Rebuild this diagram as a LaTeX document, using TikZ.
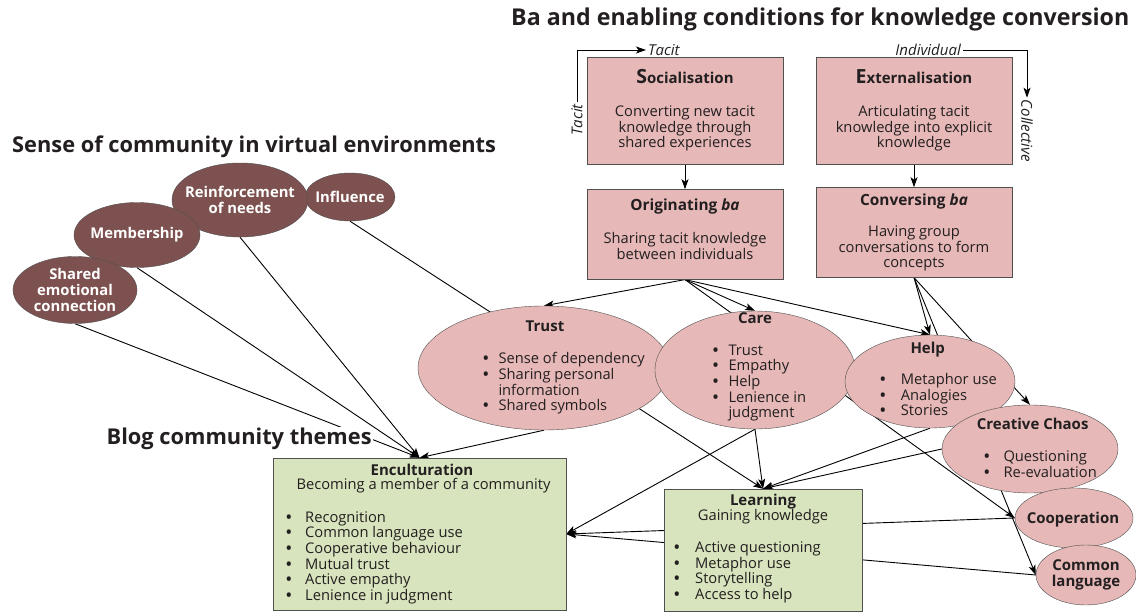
\documentclass[tikz,border=0pt]{standalone}
\usepackage{fontspec}
\setmainfont{Open Sans}
\usetikzlibrary{shapes.geometric,arrows.meta,positioning}
\definecolor{rose}{HTML}{E6B8B7}
\definecolor{cocoa}{HTML}{7D514F}
\definecolor{sage}{HTML}{D7E4BD}
\definecolor{edge}{HTML}{505050}
\definecolor{ink}{HTML}{231F20}
\newcommand{\bodyfont}{\fontsize{14.7}{15.7}\selectfont}
\newcommand{\headfont}{\fontsize{21.8}{24}\selectfont\bfseries}
\newcommand{\bul}[2]{\makebox[#1][l]{\bfseries\textbullet}#2}
\newcommand{\boxhead}[2]{{\fontsize{15}{15}\selectfont\bfseries{\fontsize{19.5}{15}\selectfont #1}#2}}
\pgfdeclarelayer{lines}
\pgfsetlayers{lines,main}
\tikzset{
  box/.style={draw=edge, fill=rose, minimum width=196pt, inner sep=0pt, align=center, font=\bodyfont, text=ink},
  blob/.style={ellipse, draw=edge, fill=rose, inner sep=0pt},
  cblob/.style={ellipse, draw=edge, fill=cocoa, inner sep=0pt},
  gbox/.style={draw=edge, fill=sage, inner sep=0pt},
  txt/.style={font=\bodyfont, text=ink, inner sep=0pt, align=left},
  btxt/.style={font=\fontsize{15}{15.7}\selectfont\bfseries, text=ink, inner sep=0pt, align=center},
  wtxt/.style={font=\fontsize{14.8}{15.7}\selectfont\bfseries, text=white, inner sep=0pt, align=center},
  itxt/.style={font=\fontsize{15}{16}\selectfont\itshape, text=ink, inner sep=2pt},
  head/.style={font=\headfont, text=ink, inner sep=0pt},
  link/.style={line width=0.9pt, draw=black, -{Stealth[length=10pt,width=7pt,inset=2.5pt]}},
}
\begin{document}
\begin{tikzpicture}[x=1pt,y=-1pt]
\useasboundingbox (0,0) rectangle (1136,612);

% Titles
\node[head, font=\fontsize{23.2}{26}\selectfont\bfseries, anchor=base west] (ba-title) at (511,25.5) {Ba and enabling conditions for knowledge conversion};
\node[head, anchor=base west] (sense-title) at (12,152.5) {Sense of community in virtual environments};

% Knowledge conversion
\node[box, minimum height=107pt] (soc) at (685,110.5) {\boxhead{S}{ocialisation}\\[17pt]Converting new tacit\\knowledge through\\shared experiences};
\node[box, minimum height=107pt] (ext) at (914,110.5) {\boxhead{E}{xternalisation}\\[17pt]Articulating tacit\\knowledge into explicit\\knowledge};
\node[box, minimum height=90pt, below=25pt of soc] (orig) {{\fontsize{15.4}{15}\selectfont\bfseries Originating \textit{ba}}\\[17.4pt]Sharing tacit knowledge\\between individuals\rule[-11pt]{0pt}{0pt}};
\node[box, minimum height=90pt, below=23pt of ext] (conv) {{\fontsize{15.4}{15}\selectfont\bfseries Conversing \textit{ba}}\\[15.7pt]Having group\\conversations to form\\concepts};

% Tacit / explicit
\node[itxt, anchor=west] (tacit-top) at (646,50) {Tacit};
\node[itxt, rotate=90] (tacit-side) at (577,120) {Tacit};
\node[itxt, anchor=east] (indiv) at (963,50) {Individual};
\node[itxt, rotate=-90] (coll) at (1027,131) {Collective};

% Sense of community
\node[cblob, minimum width=90pt, minimum height=48pt] (influ) at (350,197) {};
\node[cblob, minimum width=136pt, minimum height=74pt] (reinf) at (240,200) {};
\node[cblob, minimum width=126pt, minimum height=65pt] (member) at (137,235) {};
\node[cblob, minimum width=124pt, minimum height=67pt] (shared) at (75,290) {};
\node[wtxt] (influ-t) at (influ) {Influence};
\node[wtxt] (reinf-t) at (reinf) {Reinforcement\\of needs};
\node[wtxt] (member-t) at (member) {Membership};
\node[wtxt] (shared-t) at (shared) {Shared\\emotional\\connection};

% Enabling conditions
\node[blob, minimum width=252pt, minimum height=124pt] (trust) at (544,368) {};
\node[blob, minimum width=200pt, minimum height=118pt] (care) at (755,370) {};
\node[blob, minimum width=170pt, minimum height=93pt] (help) at (930,381.5) {};
\node[blob, minimum width=176pt, minimum height=88pt] (chaos) at (1030,449) {};
\node[blob, minimum width=118pt, minimum height=60pt] (coop) at (1074,518) {};
\node[blob, minimum width=100pt, minimum height=60pt] (common) at (1086,575) {};

\node[btxt, anchor=base] (trust-h) at (545,331.7) {Trust};
\node[txt, anchor=north west] (trust-l) at (483,352.3) {\bul{15.3pt}{Sense of dependency}\\\bul{15.3pt}{Sharing personal}\\\hspace*{15.3pt}information\\\bul{15.3pt}{Shared symbols}};
\node[btxt, anchor=base] (care-h) at (755,323.3) {Care};
\node[txt, anchor=north west] (care-l) at (712.7,344.5) {\bul{15.6pt}{Trust}\\\bul{15.6pt}{Empathy}\\\bul{15.6pt}{Help}\\\bul{15.6pt}{Lenience in}\\\hspace*{15.6pt}judgment};
\node[btxt, anchor=base] (help-h) at (927.7,353.3) {Help};
\node[txt, anchor=north west] (help-l) at (880,373) {\bul{20.7pt}{Metaphor use}\\\bul{20.7pt}{Analogies}\\\bul{20.7pt}{Stories}};
\node[btxt, anchor=base] (chaos-h) at (1032.7,430) {Creative Chaos};
\node[txt, anchor=north west] (chaos-l) at (984,451) {\bul{19.3pt}{Questioning}\\\bul{19.3pt}{Re-evaluation}};
\node[btxt, anchor=base] (coop-t) at (1073,523.3) {Cooperation};
\node[btxt] (common-t) at (common) {Common\\language};

% Blog community themes
\node[gbox, minimum width=293pt, minimum height=152pt] (encult) at (419.5,534) {};
\node[btxt, anchor=base] (encult-h) at (422,475.7) {Enculturation};
\node[txt, anchor=base] (encult-s) at (423.5,489) {Becoming a member of a community};
\node[txt, anchor=north west] (encult-l) at (286,511.2) {\bul{19pt}{Recognition}\\\bul{19pt}{Common language use}\\\bul{19pt}{Cooperative behaviour}\\\bul{19pt}{Mutual trust}\\\bul{19pt}{Active empathy}\\\bul{19pt}{Lenience in judgment}};
\node[gbox, minimum width=198pt, minimum height=122pt] (learn) at (763,550) {};
\node[btxt, anchor=base] (learn-h) at (763,505) {Learning};
\node[txt, anchor=base] (learn-s) at (763,520.7) {Gaining knowledge};
\node[txt, anchor=north west] (learn-l) at (674,541.5) {\bul{21pt}{Active questioning}\\\bul{21pt}{Metaphor use}\\\bul{21pt}{Storytelling}\\\bul{21pt}{Access to help}};

% Connectors
\begin{pgfonlayer}{lines}
  \draw[link] (tacit-side.east) |- (tacit-top.west);
  \draw[link] (indiv.east) -| (coll.west);
  \draw[link] (soc) -- (orig);
  \draw[link] (ext) -- (conv);
  \draw[link] (orig.south) -- (trust.north);
  \draw[link] (orig.south) -- (care.north);
  \draw[link] (orig.south) -- (help.north);
  \draw[link] (orig.south) -- (coop.west);
  \draw[link] (conv.south) -- (help.north);
  \draw[link] (conv.south) -- (chaos.north);
  \draw[link] (conv.south) -- (common.west);
  \draw[link] (shared.south) -- (encult.north);
  \draw[link] (member.south) -- (encult.north);
  \draw[link] (reinf.south) -- (encult.north);
  \draw[link] (influ.south) -- (learn.north);
  \draw[link] (trust.south) -- (encult.north);
  \draw[link] (care.south) -- (learn.north);
  \draw[link] (care.south) -- (encult.east);
  \draw[link] (help.south) -- (learn.north);
  \draw[link] (chaos.west) -- (learn.north);
  \draw[link] (coop.west) -- (encult.east);
  \draw[link] (common.west) -- (encult.east);
\end{pgfonlayer}

% covers the lines behind it
\node[head, anchor=base west, fill=white, inner sep=1.5pt] (blog-title) at (105,445) {Blog community themes};
\end{tikzpicture}
\end{document}
